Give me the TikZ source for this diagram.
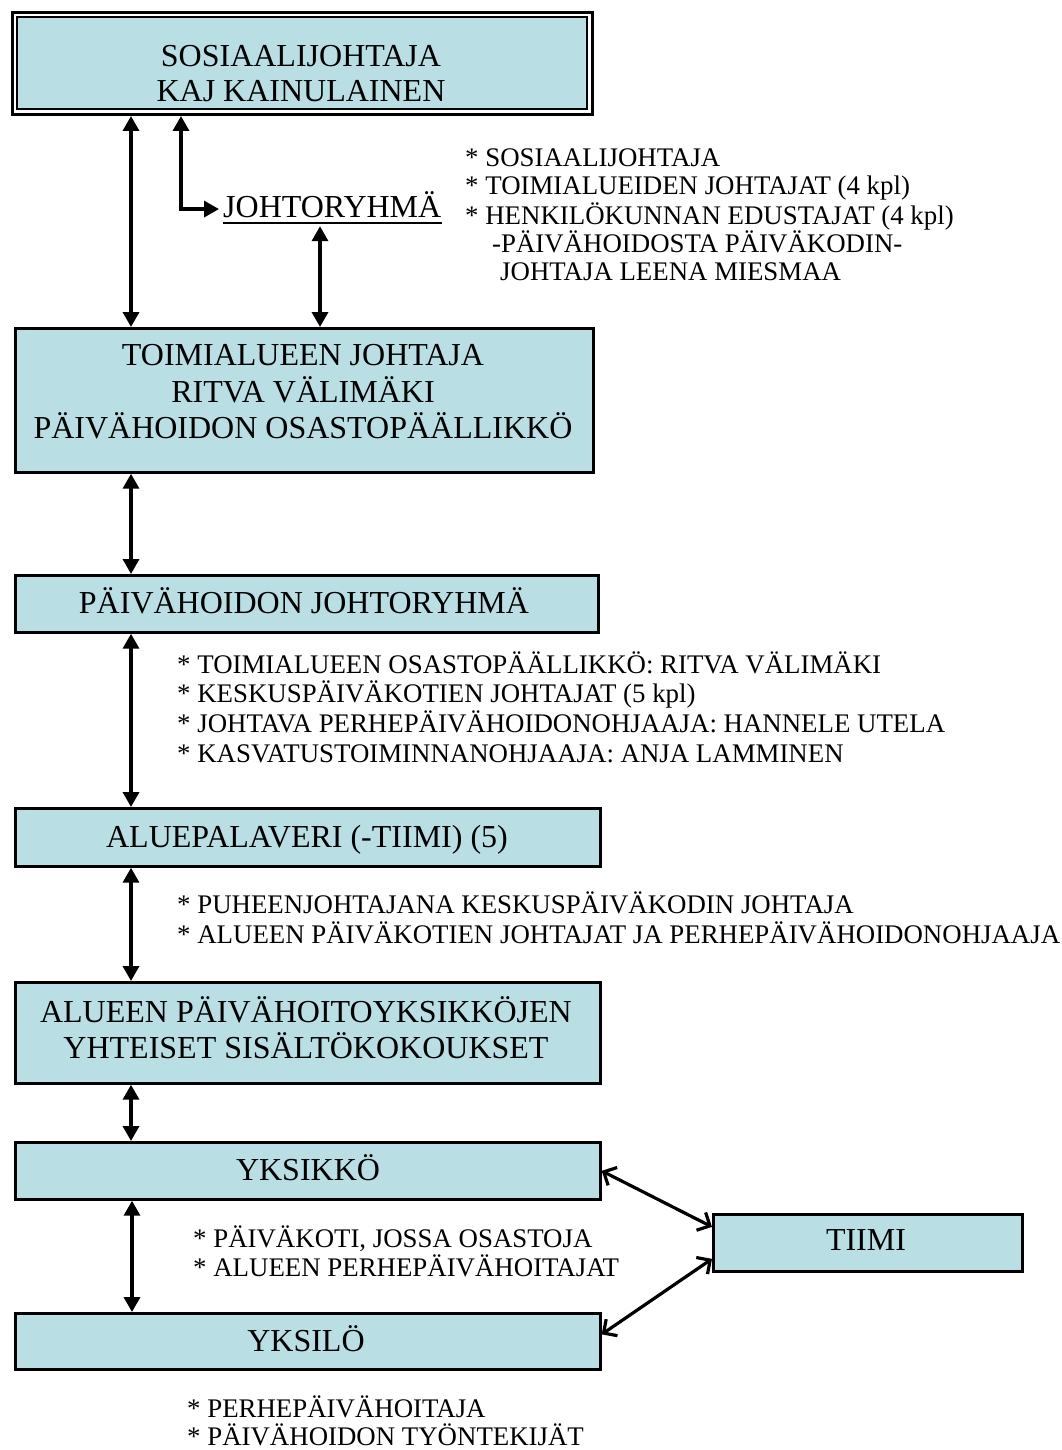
\documentclass[tikz,border=0pt]{standalone}
\usepackage{fontspec}
\setmainfont{Liberation Serif}
\usetikzlibrary{arrows.meta,calc}
\definecolor{boxfill}{RGB}{185,223,228}
\begin{document}
\begin{tikzpicture}[x=1pt,y=-1pt,
  box/.style={draw=black, line width=2.7pt, fill=boxfill, rectangle, inner sep=0pt, anchor=north west},
  frame/.style={draw=black, line width=3pt, rectangle, inner sep=0pt, anchor=north west},
  bt/.style={inner sep=0pt, anchor=base, font=\fontsize{32}{36}\selectfont},
  note/.style={inner sep=0pt, anchor=base west, font=\fontsize{26.85}{29}\selectfont},
  link/.style={line width=3.4pt, {Triangle[length=15pt,width=16pt]}-{Triangle[length=15pt,width=16pt]}},
  openlink/.style={line width=3.2pt, line join=miter, {Straight Barb[length=10pt,width=20pt]}-{Straight Barb[length=10pt,width=20pt]}}]
\useasboundingbox (0,0) rectangle (1062,1450);

% boxes
\node[frame, minimum width=580pt, minimum height=102pt] (b1o) at (11,11) {};
\node[box, line width=2pt, minimum width=570pt, minimum height=92pt] (b1) at (16,16) {};
\node[box, minimum width=578pt, minimum height=144pt] (b2) at (14,327) {};
\node[box, minimum width=583pt, minimum height=57pt] (b3) at (14,574) {};
\node[box, minimum width=585pt, minimum height=58pt] (b4) at (14,807) {};
\node[box, minimum width=585pt, minimum height=101pt] (b5) at (14,981) {};
\node[box, minimum width=585pt, minimum height=57pt] (b6) at (14,1141) {};
\node[box, minimum width=585pt, minimum height=56pt] (b7) at (14,1312) {};
\node[box, minimum width=309pt, minimum height=57pt] (b8) at (712,1213) {};

% box texts
\node[bt] (t1a) at (301,67) {SOSIAALIJOHTAJA};
\node[bt] (t1b) at (301,102) {KAJ KAINULAINEN};
\node[bt] (t2a) at (303,365) {TOIMIALUEEN JOHTAJA};
\node[bt] (t2b) at (303,402) {RITVA VÄLIMÄKI};
\node[bt] (t2c) at (303,438) {PÄIVÄHOIDON OSASTOPÄÄLLIKKÖ};
\node[bt] (t3) at (304,613) {PÄIVÄHOIDON JOHTORYHMÄ};
\node[bt] (t4) at (307,847) {ALUEPALAVERI (-TIIMI) (5)};
\node[bt] (t5a) at (306,1022) {ALUEEN PÄIVÄHOITOYKSIKKÖJEN};
\node[bt] (t5b) at (306,1058) {YHTEISET SISÄLTÖKOKOUKSET};
\node[bt] (t6) at (308,1180) {YKSIKKÖ};
\node[bt] (t7) at (306,1351) {YKSILÖ};
\node[bt] (t8) at (866,1250) {TIIMI};

% JOHTORYHMÄ
\node[inner xsep=4pt, inner ysep=0pt, text depth=8pt, anchor=base west, font=\fontsize{32}{36}\selectfont] (jr) at (219,218) {JOHTORYHMÄ};
\draw[line width=2pt] ($(jr.base west)+(4,5)$) -- ($(jr.base east)+(-4,5)$);

% notes
\node[note] (a1) at (465,167) {* SOSIAALIJOHTAJA};
\node[note] (a2) at (465,195) {* TOIMIALUEIDEN JOHTAJAT (4 kpl)};
\node[note] (a3) at (465,224) {* HENKILÖKUNNAN EDUSTAJAT (4 kpl)};
\node[note] (a4) at (492,252) {-PÄIVÄHOIDOSTA PÄIVÄKODIN-};
\node[note] (a5) at (500,280) {JOHTAJA LEENA MIESMAA};

\node[note] (m1) at (177,673) {* TOIMIALUEEN OSASTOPÄÄLLIKKÖ: RITVA VÄLIMÄKI};
\node[note] (m2) at (177,702) {* KESKUSPÄIVÄKOTIEN JOHTAJAT (5 kpl)};
\node[note] (m3) at (177,732) {* JOHTAVA PERHEPÄIVÄHOIDONOHJAAJA: HANNELE UTELA};
\node[note] (m4) at (177,762) {* KASVATUSTOIMINNANOHJAAJA: ANJA LAMMINEN};

\node[note] (p1) at (177,913) {* PUHEENJOHTAJANA KESKUSPÄIVÄKODIN JOHTAJA};
\node[note] (p2) at (177,943) {* ALUEEN PÄIVÄKOTIEN JOHTAJAT JA PERHEPÄIVÄHOIDONOHJAAJA};

\node[note] (y1) at (193,1247) {* PÄIVÄKOTI, JOSSA OSASTOJA};
\node[note] (y2) at (193,1276) {* ALUEEN PERHEPÄIVÄHOITAJAT};

\node[note] (z1) at (187,1417) {* PERHEPÄIVÄHOITAJA};
\node[note] (z2) at (187,1445) {* PÄIVÄHOIDON TYÖNTEKIJÄT};

% connectors
\coordinate (c1) at (131,0);
\coordinate (c2) at (181,0);
\coordinate (c3) at (320,0);
\coordinate (c4) at (132,0);
\draw[link] (b1o.south -| c1) -- (b2.north -| c1);
\draw[link] (b1o.south -| c2) |- (jr.west);
\draw[link] (jr.south -| c3) -- (b2.north -| c3);
\draw[link] (b2.south -| c1) -- (b3.north -| c1);
\draw[link] (b3.south -| c1) -- (b4.north -| c1);
\draw[link] (b4.south -| c1) -- (b5.north -| c1);
\draw[link] (b5.south -| c1) -- (b6.north -| c1);
\draw[link] (b6.south -| c4) -- (b7.north -| c4);
\draw[openlink] (b6.east) -- ($(b8.west)+(0,-16)$);
\draw[openlink] ($(b8.west)+(0,16)$) -- ($(b7.east)+(0,-7)$);
\end{tikzpicture}
\end{document}
